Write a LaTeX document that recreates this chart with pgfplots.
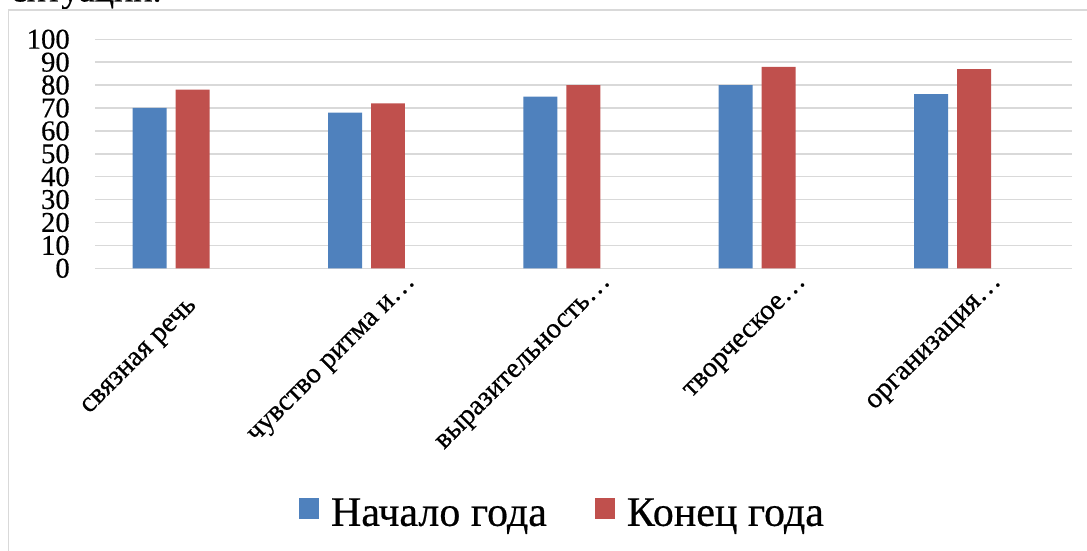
\documentclass[border=0pt]{standalone}
\usepackage{fontspec}
\setmainfont{Liberation Serif}[FakeBold=0.5]
\usepackage{pgfplots}
\pgfplotsset{compat=1.18}
\definecolor{barblue}{HTML}{4F81BD}
\definecolor{barred}{HTML}{C0504D}
\definecolor{gridgray}{HTML}{D9D9D9}

\pgfplotsset{
  sq legend/.style={
    legend image code/.code={\fill[##1] (0pt,-4.4pt) rectangle (15pt,11.1pt);}
  },
}

\begin{document}
\begin{tikzpicture}
\useasboundingbox (0,0) rectangle (815.25pt,-412.5pt);
\clip (0,0) rectangle (815.25pt,-412.5pt);
% cut-off line of text above the chart
\node[anchor=base west, inner sep=0pt, font=\fontsize{27}{27}\selectfont] at (7.9pt,-1.1pt) {ситуации.};
% chart area border
\draw[gridgray, line width=1.1pt] (6.4pt,-420pt) -- (6.4pt,-7.5pt) -- (830pt,-7.5pt);
\begin{axis}[
  at={(71.25pt,-201.2pt)}, anchor=south west,
  scale only axis, width=732.5pt, height=171.75pt,
  ybar, bar width=0.174,
  xmin=-0.5, xmax=4.5, ymin=0, ymax=100,
  enlargelimits=false,
  xtick={0,1,2,3,4},
  xticklabels={{связная речь\rule{25pt}{0pt}}, {чувство ритма и…}, {выразительность…}, {творческое…}, {организация…}},
  ytick={0,10,...,100},
  axis line style={draw=none},
  major tick length=0pt,
  ymajorgrids, grid style={gridgray, line width=1.1pt},
  tick label style={font=\fontsize{21.5}{21.5}\selectfont},
  /pgf/number format/assume math mode=true,
  yticklabel style={anchor=east, inner sep=0pt, xshift=-18.75pt},
  xticklabel style={xshift=21.2pt, yshift=-10.65pt, rotate=45, anchor=base east, inner sep=0pt},
  legend columns=-1,
  legend style={draw=none, fill=none, at={(0.2089,-1.069)}, anchor=west,
    inner sep=0pt, outer sep=0pt, nodes={inner sep=0pt},
    font=\fontsize{31.5}{31.5}\selectfont,
    /tikz/every odd column/.append style={column sep=9pt},
    /tikz/every even column/.append style={column sep=36pt}},
]
\addplot[fill=barblue, draw=none, bar shift=-0.22, sq legend] coordinates {
  (0,70) (1,68) (2,75) (3,80) (4,76)
};
\addplot[fill=barred, draw=none, bar shift=0, sq legend] coordinates {
  (0,78) (1,72) (2,80) (3,88) (4,87)
};
\legend{Начало года, Конец года}
\end{axis}
\end{tikzpicture}
\end{document}
